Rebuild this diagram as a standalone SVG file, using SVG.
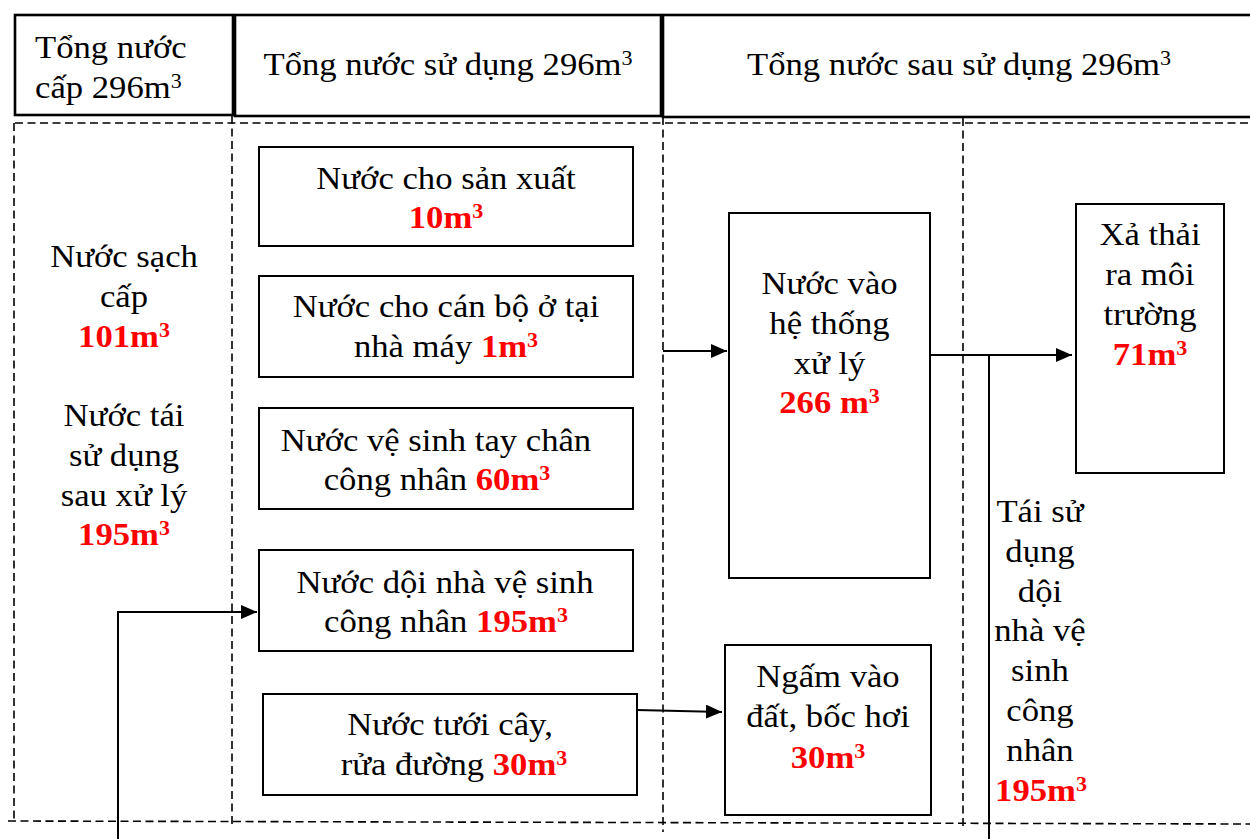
<svg xmlns="http://www.w3.org/2000/svg" width="1250" height="839" viewBox="0 0 1250 839" font-family="'Liberation Serif', 'Times New Roman', 'DejaVu Serif', serif">
<style>
.bx{fill:#fff;stroke:#000;stroke-width:2}
.hd{fill:#fff;stroke:#000;stroke-width:2.6}
.ds{fill:none;stroke:#000;stroke-width:1.6;stroke-dasharray:8 4.5}
.cn{fill:none;stroke:#000;stroke-width:2}
text{font-size:31.5px;fill:#000}
.c{text-anchor:middle}
.r{fill:#f00;font-weight:bold}
.s{font-size:20px}
</style>
<defs>
<marker id="ah" markerUnits="userSpaceOnUse" markerWidth="16" markerHeight="14" refX="16" refY="7" orient="auto">
<path d="M0,0 L16,7 L0,14 z" fill="#000"/>
</marker>
</defs>
<rect width="1250" height="839" fill="#fff"/>

<g id="dashes">
<line class="ds" x1="15" y1="123" x2="1250" y2="123"/>
<line class="ds" x1="14" y1="123" x2="14" y2="821"/>
<line class="ds" x1="232" y1="116" x2="232" y2="828"/>
<line class="ds" x1="663" y1="117" x2="663" y2="832"/>
<line class="ds" x1="963" y1="118" x2="963" y2="826"/>
<line class="ds" x1="8" y1="821" x2="1250" y2="824"/>
</g>

<g id="h1">
<rect class="hd" x="15" y="15" width="218" height="100"/>
<text transform="translate(35 0) scale(1.1 1)" y="58">Tổng nước</text>
<text transform="translate(35 0) scale(1.1 1)" y="98">cấp 296m<tspan class="s" dy="-10">3</tspan></text>
</g>
<g id="h2">
<rect class="hd" x="235" y="15" width="426" height="101"/>
<text class="c" transform="translate(448 0) scale(1.1 1)" y="75">Tổng nước sử dụng 296m<tspan class="s" dy="-10">3</tspan></text>
</g>
<g id="h3">
<rect class="hd" x="663" y="15" width="600" height="102"/>
<text class="c" transform="translate(959 0) scale(1.1 1)" y="75">Tổng nước sau sử dụng 296m<tspan class="s" dy="-10">3</tspan></text>
</g>

<g id="supply">
<text class="c" transform="translate(124 0) scale(1.1 1)" y="267">Nước sạch</text>
<text class="c" transform="translate(124 0) scale(1.1 1)" y="307">cấp</text>
<text class="c r" transform="translate(124 0) scale(1.1 1)" y="347">101m<tspan class="s" dy="-10">3</tspan></text>
<text class="c" transform="translate(124 0) scale(1.1 1)" y="426">Nước tái</text>
<text class="c" transform="translate(124 0) scale(1.1 1)" y="466">sử dụng</text>
<text class="c" transform="translate(124 0) scale(1.1 1)" y="506">sau xử lý</text>
<text class="c r" transform="translate(124 0) scale(1.1 1)" y="545">195m<tspan class="s" dy="-10">3</tspan></text>
</g>

<g id="sx">
<rect class="bx" x="259" y="147" width="374" height="99"/>
<text class="c" transform="translate(446 0) scale(1.1 1)" y="189">Nước cho sản xuất</text>
<text class="c r" transform="translate(446 0) scale(1.1 1)" y="228">10m<tspan class="s" dy="-10">3</tspan></text>
</g>
<g id="cb">
<rect class="bx" x="259" y="276" width="374" height="101"/>
<text class="c" transform="translate(446 0) scale(1.1 1)" y="317">Nước cho cán bộ ở tại</text>
<text class="c" transform="translate(446 0) scale(1.1 1)" y="357">nhà máy <tspan class="r">1m</tspan><tspan class="r s" dy="-10">3</tspan></text>
</g>
<g id="vs">
<rect class="bx" x="259" y="408" width="374" height="101"/>
<text class="c" transform="translate(436 0) scale(1.1 1)" y="451">Nước vệ sinh tay chân</text>
<text class="c" transform="translate(437 0) scale(1.1 1)" y="490">công nhân <tspan class="r">60m</tspan><tspan class="r s" dy="-10">3</tspan></text>
</g>
<g id="doi">
<rect class="bx" x="259" y="550" width="374" height="101"/>
<text class="c" transform="translate(445 0) scale(1.1 1)" y="593">Nước dội nhà vệ sinh</text>
<text class="c" transform="translate(446 0) scale(1.1 1)" y="632">công nhân <tspan class="r">195m</tspan><tspan class="r s" dy="-10">3</tspan></text>
</g>
<g id="tuoi">
<rect class="bx" x="263" y="694" width="374" height="101"/>
<text class="c" transform="translate(450 0) scale(1.1 1)" y="735">Nước tưới cây,</text>
<text class="c" transform="translate(454 0) scale(1.1 1)" y="775">rửa đường <tspan class="r">30m</tspan><tspan class="r s" dy="-10">3</tspan></text>
</g>
<g id="xuly">
<rect class="bx" x="729" y="213" width="201" height="365"/>
<text class="c" transform="translate(829.5 0) scale(1.1 1)" y="294">Nước vào</text>
<text class="c" transform="translate(829.5 0) scale(1.1 1)" y="334">hệ thống</text>
<text class="c" transform="translate(829.5 0) scale(1.1 1)" y="374">xử lý</text>
<text class="c r" transform="translate(829.5 0) scale(1.1 1)" y="413">266 m<tspan class="s" dy="-10">3</tspan></text>
</g>
<g id="ngam">
<rect class="bx" x="725" y="645" width="206" height="170"/>
<text class="c" transform="translate(828 0) scale(1.1 1)" y="687">Ngấm vào</text>
<text class="c" transform="translate(828 0) scale(1.1 1)" y="727">đất, bốc hơi</text>
<text class="c r" transform="translate(828 0) scale(1.1 1)" y="768">30m<tspan class="s" dy="-10">3</tspan></text>
</g>
<g id="xathai">
<rect class="bx" x="1076" y="204" width="148" height="269"/>
<text class="c" transform="translate(1150 0) scale(1.1 1)" y="245">Xả thải</text>
<text class="c" transform="translate(1150 0) scale(1.1 1)" y="285">ra môi</text>
<text class="c" transform="translate(1150 0) scale(1.1 1)" y="325">trường</text>
<text class="c r" transform="translate(1150 0) scale(1.1 1)" y="365">71m<tspan class="s" dy="-10">3</tspan></text>
</g>
<g id="taisd">
<text class="c" transform="translate(1040 0) scale(1.1 1)" y="522">Tái sử</text>
<text class="c" transform="translate(1040 0) scale(1.1 1)" y="562">dụng</text>
<text class="c" transform="translate(1040 0) scale(1.1 1)" y="602">dội</text>
<text class="c" transform="translate(1040 0) scale(1.1 1)" y="641">nhà vệ</text>
<text class="c" transform="translate(1040 0) scale(1.1 1)" y="681">sinh</text>
<text class="c" transform="translate(1040 0) scale(1.1 1)" y="721">công</text>
<text class="c" transform="translate(1040 0) scale(1.1 1)" y="761">nhân</text>
<text class="c r" transform="translate(1041 0) scale(1.1 1)" y="801">195m<tspan class="s" dy="-10">3</tspan></text>
</g>

<g id="connectors">
<polyline class="cn" points="118,839 118,612 257,612" marker-end="url(#ah)"/>
<line class="cn" x1="663" y1="351" x2="727" y2="351" marker-end="url(#ah)"/>
<line class="cn" x1="930" y1="355" x2="1072" y2="355" marker-end="url(#ah)"/>
<line class="cn" x1="989" y1="355" x2="989" y2="839"/>
<line class="cn" x1="637" y1="710" x2="722" y2="712" marker-end="url(#ah)"/>
</g>
</svg>
